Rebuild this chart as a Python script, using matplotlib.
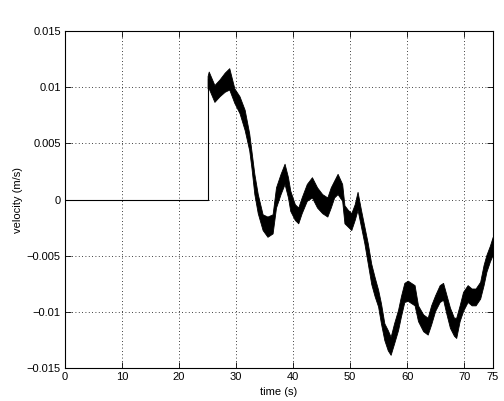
import matplotlib
matplotlib.use("Agg")
import matplotlib.pyplot as plt
import numpy as np

# flat part before the step
t_flat = [0, 25, 25]
v_flat = [0, 0, 0.0107]

# noisy part after the step: time, top and bottom of the band
t_band = [25.0, 25.2, 26.2, 27.1, 28.0, 28.8, 29.7, 30.6, 31.5, 32.3, 32.7, 33.2,
          33.8, 34.65, 35.5, 36.4, 37.0, 37.8, 38.5, 39.1, 39.5, 40.3, 40.9, 41.5,
          42.4, 43.3, 44.2, 45.1, 46.0, 46.6, 47.2, 47.8, 48.6, 49.0, 49.6, 50.2,
          50.8, 51.3, 51.9, 52.5, 53.1, 53.7, 54.3, 54.9, 55.4, 56.0, 56.6, 57.1,
          57.7, 58.4, 58.9, 59.5, 60.1, 60.7, 61.3, 61.9, 62.8, 63.6, 64.2, 64.9,
          65.7, 66.3, 66.9, 67.5, 68.2, 68.6, 69.2, 69.8, 70.6, 71.3, 72.0, 72.8,
          73.4, 73.9, 74.5, 75.0]
v_top = [0.0110, 0.0114, 0.0102, 0.0107, 0.0113, 0.0117, 0.0099, 0.0092, 0.0080, 0.0059,
         0.0043, 0.0023, 0.0005, -0.0013, -0.0015, -0.0013, 0.0011, 0.0023, 0.0032, 0.0020,
         0.0008, -0.0004, -0.0007, 0.0002, 0.0014, 0.0020, 0.0011, 0.0005, 0.0002, 0.0011,
         0.0017, 0.0023, 0.0014, -0.0005, -0.0009, -0.0012, -0.0004, 0.0007, -0.0009, -0.0024,
         -0.0039, -0.0057, -0.0069, -0.0080, -0.0092, -0.0110, -0.0116, -0.0122, -0.0110, -0.0098,
         -0.0086, -0.0074, -0.0072, -0.0074, -0.0076, -0.0094, -0.0102, -0.0105, -0.0094, -0.0085,
         -0.0076, -0.0074, -0.0085, -0.0096, -0.0105, -0.0105, -0.0094, -0.0082, -0.0076, -0.0079,
         -0.0079, -0.0073, -0.0058, -0.0049, -0.0041, -0.0033]
v_bot = [0.0099, 0.0099, 0.0087, 0.0092, 0.0096, 0.0098, 0.0086, 0.0077, 0.0062, 0.0044,
         0.0028, 0.0005, -0.0012, -0.0027, -0.0033, -0.0030, -0.0007, 0.0005, 0.0014, 0.0002,
         -0.0010, -0.0018, -0.0021, -0.0012, -0.0001, 0.0002, -0.0007, -0.0012, -0.0015, -0.0007,
         0.0002, 0.0005, -0.0001, -0.0021, -0.0024, -0.0027, -0.0018, -0.0009, -0.0024, -0.0039,
         -0.0057, -0.0075, -0.0086, -0.0095, -0.0110, -0.0125, -0.0134, -0.0138, -0.0128, -0.0116,
         -0.0104, -0.0091, -0.0090, -0.0092, -0.0094, -0.0108, -0.0117, -0.0120, -0.0111, -0.0099,
         -0.0091, -0.0089, -0.0102, -0.0114, -0.0121, -0.0123, -0.0108, -0.0099, -0.0091, -0.0094,
         -0.0094, -0.0088, -0.0076, -0.0064, -0.0055, -0.0049]

x_ticks = [0, 10, 20, 30, 40, 50, 60, 70, 75]
y_ticks = [-0.015, -0.01, -0.005, 0, 0.005, 0.01, 0.015]
y_labels = ["\u22120.015", "\u22120.01", "\u22120.005", "0", "0.005", "0.01", "0.015"]

plt.rcParams["font.family"] = ["Liberation Sans", "DejaVu Sans"]
plt.rcParams["font.size"] = 8

fig = plt.figure(figsize=(5.04, 4.01), dpi=100)
ax = fig.add_axes([0.129, 0.0815, 0.8486, 0.841])

ax.plot(t_flat, v_flat, color="black", linewidth=0.8)
ax.fill_between(t_band, v_bot, v_top, color="black", linewidth=0.6, edgecolor="black")

ax.set_xlim(0, 75)
ax.set_ylim(-0.015, 0.015)
ax.set_xticks(x_ticks)
ax.set_yticks(y_ticks)
ax.set_yticklabels(y_labels)
ax.grid(True, color="black", linestyle=(0, (1, 3)), linewidth=0.6)
ax.tick_params(direction="in", top=True, right=True, length=4, width=0.6, pad=3)
for s in ax.spines.values():
    s.set_linewidth(0.8)

ax.set_xlabel("time (s)", labelpad=3)
ax.set_ylabel("velocity (m/s)", labelpad=3)

fig.savefig("out.png", dpi=100)
